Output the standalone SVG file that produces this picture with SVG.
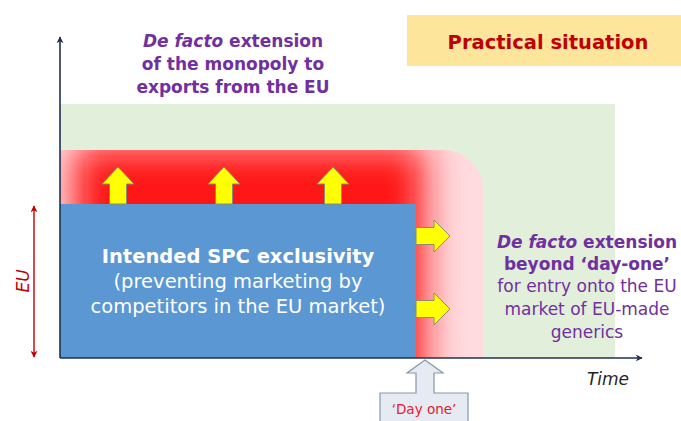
<svg xmlns="http://www.w3.org/2000/svg" width="681" height="421" viewBox="0 0 681 421">
  <defs>
    <style>
      .purple { fill: #7030A0; font-family: "DejaVu Sans", Verdana, sans-serif; }
      .b { font-weight: bold; }
      .it { font-style: italic; }
      .white { fill: #FFFFFF; font-family: "DejaVu Sans", Verdana, sans-serif; font-size: 19.5px; }
      .yarrow { fill: #FFFF00; stroke: #8C8C6E; stroke-width: 1; }
      .axis { stroke: #1F3050; stroke-width: 1.6; fill: none; }
    </style>
    <marker id="axhead" viewBox="0 0 10 10" refX="9" refY="5" markerWidth="7" markerHeight="7" orient="auto" markerUnits="userSpaceOnUse">
      <path d="M0,0 L10,5 L0,10 L3,5 Z" fill="#1F3050"/>
    </marker>
    <marker id="euhead" viewBox="0 0 10 10" refX="9" refY="5" markerWidth="7" markerHeight="7" orient="auto-start-reverse" markerUnits="userSpaceOnUse">
      <path d="M0,0 L10,5 L0,10 L3,5 Z" fill="#C00000"/>
    </marker>
    <clipPath id="redclip">
      <path d="M60,150 H443 A40,40 0 0 1 483,190 V358 H60 Z"/>
    </clipPath>
    <filter id="blur" x="-30%" y="-30%" width="160%" height="160%">
      <feGaussianBlur stdDeviation="18"/>
    </filter>
  </defs>

  <rect width="681" height="421" fill="#FFFFFF"/>

  <g id="practical-situation">
    <rect x="407" y="15" width="274" height="51" fill="#FEE59C"/>
    <text x="548" y="49" text-anchor="middle" font-family="DejaVu Sans, Verdana, sans-serif" font-weight="bold" font-size="19.5" fill="#C00000">Practical situation</text>
  </g>

  <g id="export-extension-zone">
    <rect x="60" y="104" width="555" height="254" fill="#E2EFDA"/>
  </g>

  <g id="day-one-extension-zone">
    <g clip-path="url(#redclip)">
      <rect x="60" y="150" width="423" height="208" fill="#FFDADE"/>
      <rect x="74" y="146" width="350" height="250" fill="#FF1818" filter="url(#blur)"/>
    </g>
  </g>

  <g id="intended-spc">
    <rect x="60" y="204" width="356" height="154" fill="#5B97D3"/>
    <text x="238" y="263" text-anchor="middle" class="white b" font-size="20">Intended SPC exclusivity</text>
    <text x="238" y="288" text-anchor="middle" class="white">(preventing marketing by</text>
    <text x="238" y="313" text-anchor="middle" class="white">competitors in the EU market)</text>
  </g>

  <g id="up-arrows">
    <path class="yarrow" d="M109.5,204 V184 H102 L118,167 L134,184 H126.5 V204 Z"/>
    <path class="yarrow" d="M215.5,204 V184 H208 L224,167 L240,184 H232.5 V204 Z"/>
    <path class="yarrow" d="M324.5,204 V184 H317 L333,167 L349,184 H341.5 V204 Z"/>
  </g>

  <g id="right-arrows">
    <path class="yarrow" d="M416,227.5 H434 V220 L450,236 L434,252 V244.5 H416 Z"/>
    <path class="yarrow" d="M416,300.5 H434 V293 L450,309 L434,325 V317.5 H416 Z"/>
  </g>

  <g id="connectors">
    <line class="axis" x1="60" y1="358" x2="60" y2="37" marker-end="url(#axhead)"/>
    <line class="axis" x1="60" y1="358" x2="642" y2="358" marker-end="url(#axhead)"/>
    <line x1="34" y1="206" x2="34" y2="357" stroke="#C00000" stroke-width="1.4" marker-start="url(#euhead)" marker-end="url(#euhead)"/>
  </g>

  <g id="eu-label">
    <text transform="translate(29,281) rotate(-90)" text-anchor="middle" font-family="DejaVu Sans, Verdana, sans-serif" font-style="italic" font-size="17" fill="#C00000">EU</text>
  </g>

  <g id="time-label">
    <text x="608" y="385" text-anchor="middle" font-family="DejaVu Sans, Verdana, sans-serif" font-style="italic" font-size="17" fill="#262626">Time</text>
  </g>

  <g id="export-text">
    <text x="233" y="47" text-anchor="middle" class="purple b" font-size="17"><tspan class="it">De facto</tspan> extension</text>
    <text x="233" y="70" text-anchor="middle" class="purple b" font-size="17">of the monopoly to</text>
    <text x="233" y="93" text-anchor="middle" class="purple b" font-size="17">exports from the EU</text>
  </g>

  <g id="day-one-text">
    <text x="587" y="248" text-anchor="middle" class="purple b" font-size="17"><tspan class="it">De facto</tspan> extension</text>
    <text x="587" y="270" text-anchor="middle" class="purple b" font-size="17">beyond ‘day-one’</text>
    <text x="587" y="292" text-anchor="middle" class="purple" font-size="17">for entry onto the EU</text>
    <text x="587" y="315" text-anchor="middle" class="purple" font-size="17">market of EU-made</text>
    <text x="587" y="338" text-anchor="middle" class="purple" font-size="17">generics</text>
  </g>

  <g id="day-one">
    <path d="M425,360 L443,373 L434,373 L434,393 L468,393 L468,425 L380,425 L380,393 L416,393 L416,373 L407,373 Z" fill="#E6EAF2" stroke="#8797AE" stroke-width="1.2"/>
    <text x="424" y="414" text-anchor="middle" font-family="DejaVu Sans, Verdana, sans-serif" font-size="13.5" fill="#E3202C">‘Day one’</text>
  </g>
</svg>
